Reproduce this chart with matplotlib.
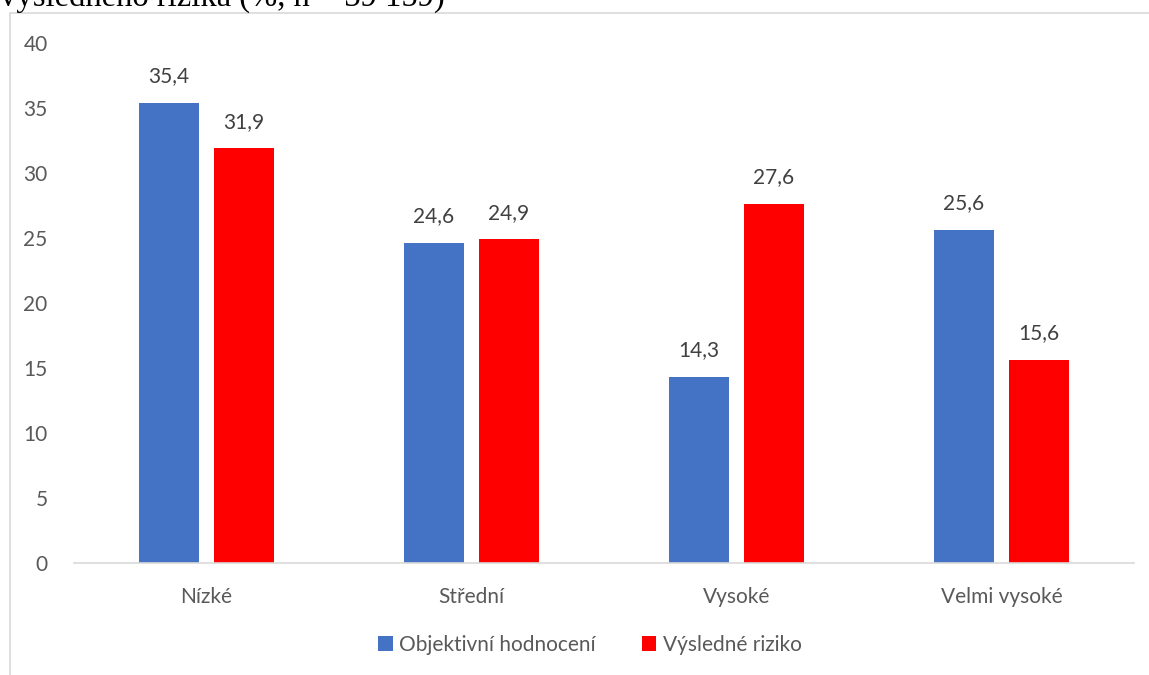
import matplotlib
matplotlib.use("Agg")
import matplotlib.pyplot as plt
import numpy as np
from matplotlib.patches import Rectangle

categories = ["Nízké", "Střední", "Vysoké", "Velmi vysoké"]
objektivni = [35.4, 24.6, 14.3, 25.6]
vysledne = [31.9, 24.9, 27.6, 15.6]
series_names = ["Objektivní hodnocení", "Výsledné riziko"]
yticks = [0, 5, 10, 15, 20, 25, 30, 35, 40]
title_text = "výsledného rizika (%, n = 39 159)"

W, H = 1149, 675
fig = plt.figure(figsize=(W/100, H/100), dpi=100)
font = ["Lato", "DejaVu Sans"]
gray = "#595959"
fs = 15

# chart frame
fig.patches.append(Rectangle((10/W, -0.1), 1.2, 1 - 13/H + 0.1, transform=fig.transFigure,
                             fill=False, edgecolor="#d9d9d9", linewidth=1.2))
# clipped title
fig.text(0.0, 1 - 6/H, title_text, family=["Liberation Serif"], fontsize=23.5,
         color="black", va="baseline", ha="left")

ax = fig.add_axes([74/W, 1 - 563/H, (1134-74)/W, (563-43)/H])
x = np.arange(len(categories))
bw = 0.226
off = 0.1415
b1 = ax.bar(x - off, objektivni, bw, color="#4472C4", label=series_names[0])
b2 = ax.bar(x + off, vysledne, bw, color="#FF0000", label=series_names[1])
for bars, vals in ((b1, objektivni), (b2, vysledne)):
    for b, v in zip(bars, vals):
        ax.annotate(f"{v:.1f}".replace(".", ","), (b.get_x() + b.get_width()/2, v),
                    xytext=(0, 12), textcoords="offset points", ha="center", va="bottom",
                    family=font, fontsize=fs, color="#404040")
ax.set_xlim(-0.5, 3.5)
ax.set_ylim(0, 40)
ax.set_yticks(yticks)
ax.set_yticklabels([str(t) for t in yticks], family=font, fontsize=fs, color=gray)
ax.set_xticks(x)
ax.set_xticklabels(categories, family=font, fontsize=fs, color=gray)
ax.tick_params(axis="both", length=0)
ax.tick_params(axis="y", pad=19)
ax.tick_params(axis="x", pad=17)
for s in ["top", "right", "left"]:
    ax.spines[s].set_visible(False)
ax.spines["bottom"].set_color("#d9d9d9")
ax.spines["bottom"].set_linewidth(1.2)

leg = fig.legend(handles=[b1, b2], labels=series_names, loc="center",
                 bbox_to_anchor=(590/W, 1 - 645/H), ncol=2, frameon=False,
                 prop={"family": font, "size": fs}, handlelength=0.7, handleheight=0.7,
                 handletextpad=0.3, columnspacing=2.2)
for t in leg.get_texts():
    t.set_color(gray)

fig.savefig("out.png", dpi=100)
